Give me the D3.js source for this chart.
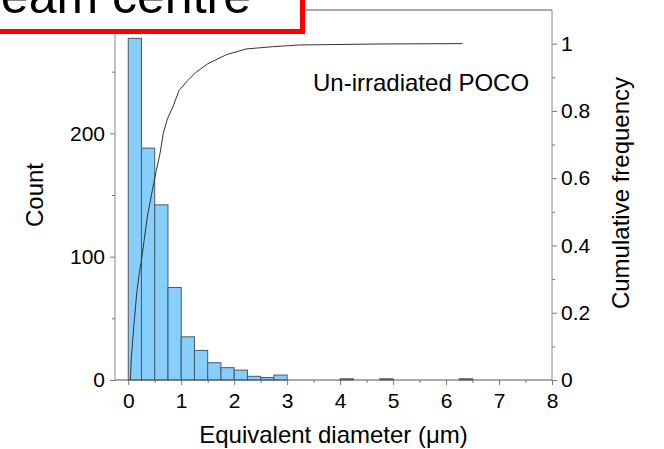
<!DOCTYPE html>
<html lang="en">
<head>
    <meta charset="UTF-8">
    <script src="https://cdnjs.cloudflare.com/ajax/libs/d3/7.8.5/d3.min.js" type="text/JavaScript"></script>
    <style>
        body { margin: 0; background: #fff; }
        svg { display: block; }
        text { font-family: "Liberation Sans", Arial, sans-serif; fill: #000; }
    </style>
</head>
<body>
    <svg width="664" height="449"></svg>
    <script>
        // histogram bins (lower edge, um) with non-zero counts, bin width 0.25
        const binStart = [0, 0.25, 0.5, 0.75, 1, 1.25, 1.5, 1.75, 2, 2.25, 2.5, 2.75, 4, 4.75, 6.25];
        const counts = [277, 188, 142, 75, 35, 24, 14, 10, 8, 3, 2, 4, 1, 1, 1];
        const binWidth = 0.25;

        // cumulative frequency curve
        const cumX = [0.04, 0.06, 0.11, 0.16, 0.21, 0.25, 0.30, 0.36, 0.43, 0.48, 0.53, 0.60, 0.66, 0.74,
            0.84, 0.96, 1.12, 1.28, 1.50, 1.85, 2.22, 2.73, 3.23, 4.74, 6.31];
        const cumY = [0, 0.069, 0.169, 0.258, 0.318, 0.356, 0.415, 0.485, 0.544, 0.584, 0.623, 0.673, 0.732, 0.777,
            0.811, 0.861, 0.890, 0.915, 0.940, 0.967, 0.984, 0.991, 0.996, 0.999, 1.0];

        const xTicks = [0, 1, 2, 3, 4, 5, 6, 7, 8];
        const xMinor = [0.5, 1.5, 2.5, 3.5, 4.5, 5.5, 6.5, 7.5];
        const countTicks = [0, 100, 200];
        const countMinor = [50, 150, 250];
        const freqTicks = [0, 0.2, 0.4, 0.6, 0.8, 1];
        const freqMinor = [0.1, 0.3, 0.5, 0.7, 0.9];

        const plotL = 115, plotR = 552, plotT = 10, plotB = 380;

        const x = d3.scaleLinear().domain([-0.25, 8]).range([plotL, plotR]);
        const yCount = d3.scaleLinear().domain([0, 300]).range([plotB, plotT]);
        const yFreq = d3.scaleLinear().domain([0, 1.1]).range([plotB, plotT]);

        const svg = d3.select('svg');

        svg.append('g')
            .selectAll('rect')
            .data(binStart.map((b, i) => ({ x0: b, x1: b + binWidth, n: counts[i] })))
            .enter()
            .append('rect')
            .attr('x', d => x(d.x0))
            .attr('width', d => x(d.x1) - x(d.x0))
            .attr('y', d => yCount(d.n))
            .attr('height', d => yCount(0) - yCount(d.n))
            .style('fill', '#87cefa')
            .style('stroke', '#4a5866')
            .style('stroke-width', '1px');

        const line = d3.line()
            .x(d => x(d[0]))
            .y(d => yFreq(d[1]));
        svg.append('path')
            .datum(cumX.map((v, i) => [v, cumY[i]]))
            .attr('d', line)
            .style('fill', 'none')
            .style('stroke', '#333')
            .style('stroke-width', '1px');

        // axes
        const styleAxis = g => {
            g.select('.domain').remove();
            g.selectAll('line').style('stroke', '#777');
            g.selectAll('text').style('font-size', '21px').style('font-family', '"Liberation Sans", Arial, sans-serif');
        };

        svg.append('g')
            .attr('transform', `translate(0,${plotB})`)
            .call(d3.axisBottom(x).tickValues(xTicks).tickSize(5).tickPadding(8).tickFormat(d3.format('d')))
            .call(styleAxis);
        svg.append('g')
            .attr('transform', `translate(0,${plotB})`)
            .call(d3.axisBottom(x).tickValues(xMinor).tickSize(3).tickFormat(''))
            .call(styleAxis);

        svg.append('g')
            .attr('transform', `translate(${plotL},0)`)
            .call(d3.axisLeft(yCount).tickValues(countTicks).tickSize(5).tickPadding(5))
            .call(styleAxis);
        svg.append('g')
            .attr('transform', `translate(${plotL},0)`)
            .call(d3.axisLeft(yCount).tickValues(countMinor).tickSize(3).tickFormat(''))
            .call(styleAxis);

        svg.append('g')
            .attr('transform', `translate(${plotR},0)`)
            .call(d3.axisRight(yFreq).tickValues(freqTicks).tickSize(5).tickPadding(4).tickFormat(d3.format('')))
            .call(styleAxis);
        svg.append('g')
            .attr('transform', `translate(${plotR},0)`)
            .call(d3.axisRight(yFreq).tickValues(freqMinor).tickSize(3).tickFormat(''))
            .call(styleAxis);

        // frame lines
        svg.append('line').attr('x1', plotL).attr('x2', plotL).attr('y1', plotT).attr('y2', plotB)
            .style('stroke', '#888').style('stroke-width', '1px');
        svg.append('line').attr('x1', plotR).attr('x2', plotR).attr('y1', plotT).attr('y2', plotB)
            .style('stroke', '#888').style('stroke-width', '1px');
        svg.append('line').attr('x1', plotL).attr('x2', plotR).attr('y1', plotB).attr('y2', plotB)
            .style('stroke', '#555').style('stroke-width', '1px');
        svg.append('line').attr('x1', plotL).attr('x2', plotR).attr('y1', plotT).attr('y2', plotT)
            .style('stroke', '#555').style('stroke-width', '1px');

        // titles
        svg.append('text')
            .attr('x', (plotL + plotR) / 2).attr('y', 443)
            .attr('text-anchor', 'middle')
            .style('font-size', '24px')
            .text('Equivalent diameter (μm)');
        svg.append('text')
            .attr('transform', `translate(43,${(plotT + plotB) / 2}) rotate(-90)`)
            .attr('text-anchor', 'middle')
            .style('font-size', '24px')
            .text('Count');
        svg.append('text')
            .attr('transform', `translate(629,${(plotT + plotB) / 2 - 2}) rotate(-90)`)
            .attr('text-anchor', 'middle')
            .style('font-size', '24px')
            .text('Cumulative frequency');
        svg.append('text')
            .attr('x', 313).attr('y', 91)
            .style('font-size', '24px')
            .text('Un-irradiated POCO');

        // red boxed label, cut by the top-left corner
        svg.append('rect')
            .attr('x', -10).attr('y', -10)
            .attr('width', 312.5).attr('height', 41.5)
            .style('fill', '#fff')
            .style('stroke', '#ff0000')
            .style('stroke-width', '5px');
        svg.append('text')
            .attr('x', 251).attr('y', 13)
            .attr('text-anchor', 'end')
            .style('font-size', '50px')
            .text('Beam centre');
    </script>
</body>
</html>
